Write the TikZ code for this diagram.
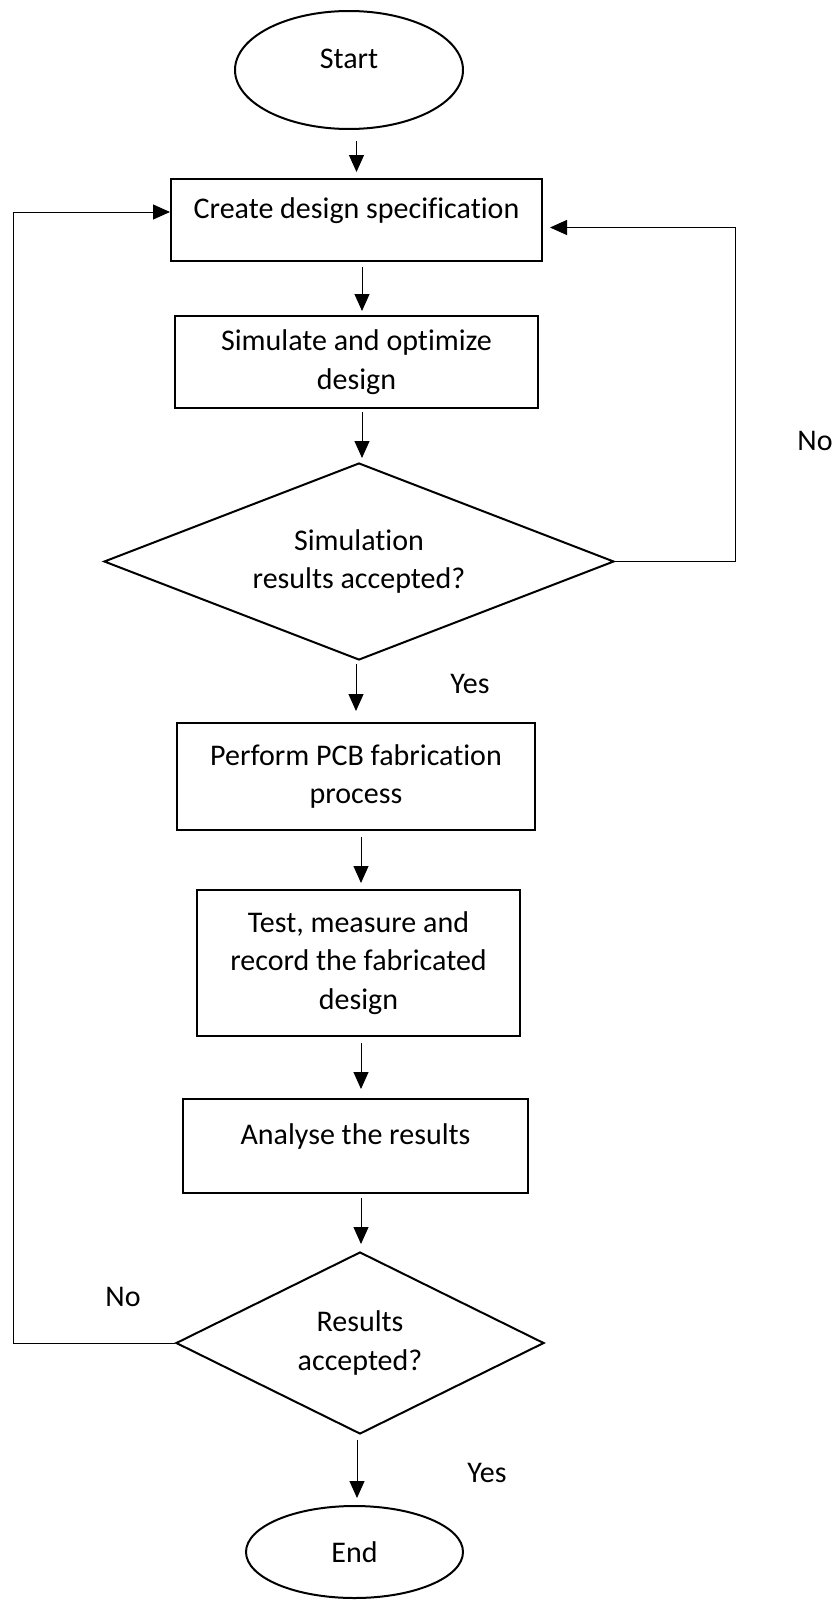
\documentclass[tikz,border=0pt]{standalone}
\usepackage{fontspec}
\setmainfont{Carlito}[Ligatures=NoCommon]
\usetikzlibrary{arrows.meta,shapes.geometric}

\begin{document}
\begin{tikzpicture}[x=0.5pt,y=-0.5pt,
  font=\fontsize{15}{19.3}\selectfont,
  term/.style={draw,ellipse,line width=1pt,inner sep=0pt},
  procbox/.style={draw,rectangle,line width=1pt,inner sep=0pt,align=center},
  decide/.style={draw,diamond,aspect=2.5,line width=1pt,inner sep=0pt,align=center},
  arr/.style={-{Triangle[length=8.5pt,width=7.5pt]},line width=0.5pt},
  lbl/.style={text height=9.7pt,text depth=0pt,inner sep=0pt},
  toptext/.style={text height=10pt,text depth=11.4pt}]

\useasboundingbox (0,0) rectangle (832,1600);

\node[term,toptext,minimum width=114pt,minimum height=59pt] (start) at (349,70) {Start};
\node[procbox,toptext,minimum width=185.5pt,minimum height=41pt] (create) at (356.5,220) {Create design specification};
\node[procbox,minimum width=181.5pt,minimum height=46pt] (sim) at (356.5,362) {Simulate and optimize\\design};
\node[decide,minimum width=255pt,minimum height=98.5pt] (simok) at (359,561.5) {Simulation\\results accepted?};
\node[procbox,minimum width=179pt,minimum height=53.5pt] (pcb) at (356,776.5) {Perform PCB fabrication\\process};
\node[procbox,minimum width=161.5pt,minimum height=73pt] (test) at (358.5,963) {Test, measure and\\record the fabricated\\design};
\node[procbox,toptext,minimum width=172.5pt,minimum height=47pt] (analyse) at (355.5,1146) {Analyse the results};
\node[decide,minimum width=184pt,minimum height=91pt] (resok) at (360,1343) {Results\\accepted?};
\node[term,minimum width=108.5pt,minimum height=46pt] (finish) at (354.5,1552) {End};

\node[lbl] (notop) at (815,441) {No};
\node[lbl] (yestop) at (470,684) {Yes};
\node[lbl] (nobot) at (123,1297) {No};
\node[lbl] (yesbot) at (487,1473) {Yes};

\coordinate (rightx) at (735,0);
\coordinate (leftx) at (13,0);

\draw[arr,shorten <=5.5pt,shorten >=3pt] (start.south -| create.north) -- (create.north);
\draw[arr,shorten <=2.5pt,shorten >=2pt] ([xshift=2.75pt]create.south) -- ([xshift=2.75pt]sim.north);
\draw[arr,shorten <=1.5pt,shorten >=2pt] ([xshift=2.75pt]sim.south) -- ([xshift=2.75pt]sim.south |- simok.north);
\draw[arr,shorten <=1.5pt,shorten >=5.5pt] (simok.south -| pcb.north) -- (pcb.north);
\draw[arr,shorten <=3pt,shorten >=3pt] ([xshift=1.25pt]test.north |- pcb.south) -- ([xshift=1.25pt]test.north);
\draw[arr,shorten <=3pt,shorten >=4.5pt] ([xshift=1.25pt]test.south) -- ([xshift=1.25pt]test.south |- analyse.north);
\draw[arr,shorten <=2pt,shorten >=3.5pt] ([xshift=0.5pt]resok.north |- analyse.south) -- ([xshift=0.5pt]resok.north);
\draw[arr,shorten <=2.5pt,shorten >=3.5pt] ([xshift=-1.5pt]resok.south) -- ([xshift=-1.5pt]resok.south |- finish.north);

\draw[arr,shorten >=3.5pt] (simok.east) -- (simok.east -| rightx) |- ([yshift=-3.75pt]create.east);
\draw[arr] (resok.west) -- (resok.west -| leftx) |- ([yshift=4pt]create.west);

\end{tikzpicture}
\end{document}
